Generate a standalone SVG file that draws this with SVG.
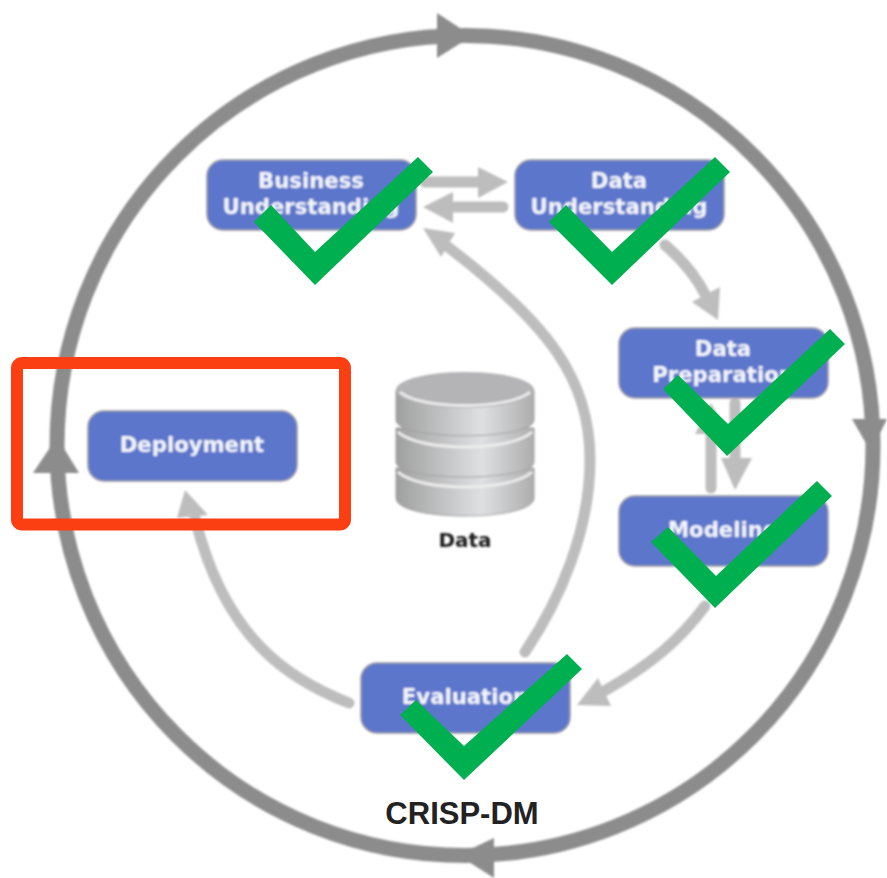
<svg xmlns="http://www.w3.org/2000/svg" width="887" height="878" viewBox="0 0 887 878">
<style>
.box{fill:#5b76cb;stroke:#9a9aa0;stroke-width:1.500}
.lbl{font-family:"DejaVu Sans",sans-serif;font-weight:700;font-size:21.200px;fill:#f4f6fc;text-anchor:middle}
.check{fill:#00b050}
.arc{fill:none;stroke:#bdbdbd;stroke-width:11;stroke-linecap:round}
.head{fill:#bdbdbd}
.ring{fill:#8c8c8c}
.disk{fill:url(#cyl);stroke:#a0a0a0;stroke-width:1}
.rim{fill:none;stroke:#ececec;stroke-width:3}
.rimd{fill:none;stroke:#8f8f8f;stroke-width:2}
</style>
<defs>
<linearGradient id="cyl" x1="0" x2="1" y1="0" y2="0">
<stop offset="0" stop-color="#9f9f9f"/><stop offset=".62" stop-color="#dfe0e2"/><stop offset="1" stop-color="#adadad"/>
</linearGradient>
<filter id="soft" x="-5%" y="-5%" width="110%" height="110%"><feGaussianBlur stdDeviation="0.8"/></filter>
</defs>
<rect width="887" height="878" fill="#fff"/>
<g id="connectors">
<g id="cycle" filter="url(#soft)">
<ellipse cx="465" cy="445.500" rx="408" ry="410" fill="none" stroke="#8c8c8c" stroke-width="15"/>
<polygon class="ring" points="437,13 472,36 437,58"/>
<polygon class="ring" points="852,419 887,419 871,452"/>
<polygon class="ring" points="494,838 494,878 458,855"/>
<polygon class="ring" points="33,473 79,473 57,437"/>
</g>
<g id="flows" filter="url(#soft)">
<path class="arc" d="M425,182H480"/><polygon class="head" points="478,167 508,182 478,198"/>
<path class="arc" d="M503,207H450"/><polygon class="head" points="453,192 423,207 453,223"/>
<path class="arc" d="M525,652C560,600 590,530 590,460C590,380 550,325 448,247"/><polygon class="head" points="455,233 423,228 441,257"/>
<path class="arc" d="M665,245C685,262 697,278 706,296"/><polygon class="head" points="692,302 720,287 718,320"/>
<path class="arc" d="M735,403V460"/><polygon class="head" points="721,458 752,458 735,490"/>
<path class="arc" d="M711,488V430"/><polygon class="head" points="695,434 728,434 711,403"/>
<path class="arc" d="M705,606C680,640 650,665 606,690"/><polygon class="head" points="598,678 611,706 577,705"/>
<path class="arc" d="M349,703C290,680 225,640 195,518"/><polygon class="head" points="177,518 208,515 185,490"/>
</g>
</g>
<g id="business-understanding" filter="url(#soft)"><rect class="box" x="207" y="160" width="209" height="70" rx="16"/><text class="lbl" x="311" y="188">Business</text><text class="lbl" x="311" y="214">Understanding</text></g>
<g id="data-understanding" filter="url(#soft)"><rect class="box" x="515" y="160" width="209" height="70" rx="16"/><text class="lbl" x="619" y="188">Data</text><text class="lbl" x="619" y="214">Understanding</text></g>
<g id="data-preparation" filter="url(#soft)"><rect class="box" x="619" y="328" width="209" height="70" rx="16"/><text class="lbl" x="723" y="356">Data</text><text class="lbl" x="723" y="382">Preparation</text></g>
<g id="modeling" filter="url(#soft)"><rect class="box" x="619" y="496" width="209" height="70" rx="16"/><text class="lbl" x="723" y="537">Modeling</text></g>
<g id="evaluation" filter="url(#soft)"><rect class="box" x="361" y="663" width="209" height="70" rx="16"/><text class="lbl" x="465" y="704">Evaluation</text></g>
<g id="deployment" filter="url(#soft)"><rect class="box" x="88" y="411" width="209" height="70" rx="16"/><text class="lbl" x="192" y="452">Deployment</text></g>
<g id="data" filter="url(#soft)">
<path class="disk" d="M396,468V498C396,522 534,522 534,498V468Z"/>
<path class="rim" d="M398,472C420,492 510,492 532,472"/>
<path class="disk" d="M396,428V462C396,482 534,482 534,462V428Z"/>
<path class="rim" d="M398,432C420,452 510,452 532,432"/>
<path class="disk" d="M396,390V420C396,441 534,441 534,420V390Z"/>
<ellipse cx="465" cy="390" rx="69" ry="18" fill="#b4b4b6"/>
<path class="rim" d="M400,392C420,410 510,410 530,392"/>
<text x="465" y="547" font-family="'DejaVu Sans',sans-serif" font-weight="700" font-size="20" fill="#1c1c1c" text-anchor="middle">Data</text>
</g>
<g id="deployment-highlight"><rect x="17" y="363" width="328" height="161.500" rx="5" fill="none" stroke="#fc3f12" stroke-width="12"/></g>
<g id="checks">
<polygon class="check" points="254,222 315,285 433,172 418,157 315,252 271,205"/>
<polygon class="check" points="549,222 612,285 730,172 715,157 612,252 566,205"/>
<polygon class="check" points="663,389 727,456 845,344 830,329 728,424 678,375"/>
<polygon class="check" points="651,542 715,608 832,496 817,481 716,576 668,527"/>
<polygon class="check" points="400,715 464,780 582,669 567,654 464,746 416,700"/>
</g>
<text id="title" x="462" y="824" font-family="'Liberation Sans',Arial,sans-serif" font-weight="700" font-size="31" fill="#222" text-anchor="middle">CRISP-DM</text>
</svg>
